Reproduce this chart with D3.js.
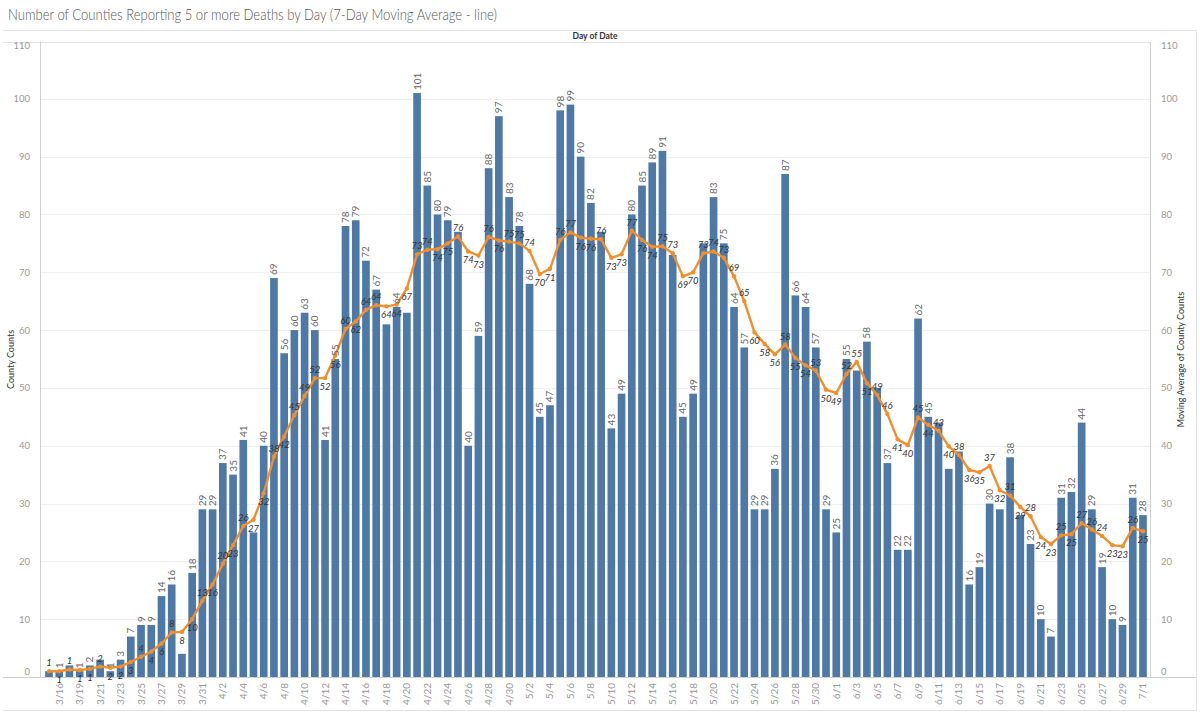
<!DOCTYPE html>
<html>
<head>
<meta charset="utf-8">
<script src="https://cdn.jsdelivr.net/npm/d3@7"></script>
<style>
  body { margin: 0; background: #fff; }
  svg text { font-family: Lato, "Open Sans", sans-serif; }
</style>
</head>
<body>
<div class="chart"></div>
<script>
// day labels (3/18 not in the data)
const dates = ["3/15","3/16","3/17","3/19","3/20","3/21","3/22","3/23","3/24","3/25","3/26","3/27","3/28","3/29","3/30","3/31",
  "4/1","4/2","4/3","4/4","4/5","4/6","4/7","4/8","4/9","4/10","4/11","4/12","4/13","4/14","4/15","4/16","4/17","4/18","4/19","4/20",
  "4/21","4/22","4/23","4/24","4/25","4/26","4/27","4/28","4/29","4/30",
  "5/1","5/2","5/3","5/4","5/5","5/6","5/7","5/8","5/9","5/10","5/11","5/12","5/13","5/14","5/15","5/16","5/17","5/18","5/19","5/20",
  "5/21","5/22","5/23","5/24","5/25","5/26","5/27","5/28","5/29","5/30","5/31",
  "6/1","6/2","6/3","6/4","6/5","6/6","6/7","6/8","6/9","6/10","6/11","6/12","6/13","6/14","6/15","6/16","6/17","6/18","6/19","6/20",
  "6/21","6/22","6/23","6/24","6/25","6/26","6/27","6/28","6/29","6/30","7/1"];

// county counts per day (bars)
const counts = [1,1,2,1,2,3,1,3,7,9,9,14,16,4,18,29,29,37,35,41,25,40,69,
  56,60,63,60,41,55,78,79,72,67,61,64,63,
  101,85,80,79,77,40,59,88,97,83,78,68,
  45,47,98,99,90,82,77,
  43,49,80,85,89,91,73,45,49,75,83,75,
  64,57,29,29,36,87,66,64,57,29,
  25,55,53,58,50,37,22,22,62,45,44,
  36,39,16,19,30,29,38,28,23,
  10,7,31,32,44,29,19,10,9,31,28];

// 7-day moving average (line)
const movingAvg = [1.0,1.0,1.3,1.2,1.4,1.8,1.6,1.8,2.6,3.5,4.4,5.8,7.7,7.8,10.0,
  13.2,16.0,19.6,22.8,26.1,27.2,31.8,38.1,
  41.6,45.3,48.6,51.7,51.7,55.6,60.2,61.5,63.5,64.3,64.1,64.4,67.2,
  73.1,73.9,74.0,75.0,76.2,73.6,72.9,76.1,75.5,75.3,75.0,73.7,
  69.7,70.6,75.6,76.9,76.0,75.8,75.7,
  72.5,73.1,77.2,75.6,74.4,74.5,73.3,69.3,70.0,73.3,73.6,72.5,
  69.3,65.0,59.6,57.6,55.8,57.5,55.2,53.9,53.0,49.7,
  49.1,52.4,54.5,50.8,48.8,45.5,41.1,40.1,44.9,43.6,42.6,
  39.9,38.4,35.8,35.4,36.5,32.3,31.4,29.4,27.8,
  24.2,23.0,24.5,24.7,26.6,25.5,24.4,22.8,22.6,25.8,25.2];

const yTicks = [0,10,20,30,40,50,60,70,80,90,100,110];

const w = 1200;
const h = 714;
const padL = 40, padR = 1150, padT = 42, padB = 677;

const data = dates.map((d, i) => ({date: d, count: counts[i], avg: movingAvg[i], i: i}));

const svg = d3.select(".chart").append("svg")
  .attr("width", w)
  .attr("height", h);

// title
svg.append("text")
  .attr("x", 8)
  .attr("y", 20)
  .attr("fill", "#555")
  .style("font-size", "16px")
  .style("font-weight", 300)
  .attr("textLength", 489)
  .attr("lengthAdjust", "spacingAndGlyphs")
  .text("Number of Counties Reporting 5 or more Deaths by Day (7-Day Moving Average - line)");

// frame lines
const frame = svg.append("g").attr("stroke", "#e3e3e3").attr("fill", "none");
frame.append("line").attr("x1", 3).attr("x2", 1196).attr("y1", 30.5).attr("y2", 30.5);
frame.append("line").attr("x1", 3).attr("x2", 1196).attr("y1", 710.5).attr("y2", 710.5);
frame.append("line").attr("x1", 1196.5).attr("x2", 1196.5).attr("y1", 30).attr("y2", 711);
frame.append("line").attr("x1", 3).attr("x2", 1150).attr("y1", padT + 0.5).attr("y2", padT + 0.5);

svg.append("text")
  .attr("x", 595)
  .attr("y", 39)
  .attr("text-anchor", "middle")
  .attr("fill", "#333")
  .style("font-size", "8.5px")
  .style("font-weight", "bold")
  .text("Day of Date");

const xScale = d3.scaleBand()
  .domain(dates)
  .range([43.9, 1148.1])
  .paddingInner(0.25)
  .paddingOuter(0.125);

const yScale = d3.scaleLinear()
  .domain([0, 110])
  .range([padB, padT - 1]);

// gridlines
svg.append("g").selectAll("line")
  .data(yTicks.slice(1, -1))
  .enter()
  .append("line")
  .attr("x1", padL)
  .attr("x2", padR)
  .attr("y1", d => Math.round(yScale(d)) + 0.5)
  .attr("y2", d => Math.round(yScale(d)) + 0.5)
  .attr("stroke", "#f0f0f0");

// axes
function styleAxis(g) {
  g.select(".domain").attr("stroke", "#d0d0d0");
  g.selectAll(".tick line").remove();
  g.selectAll(".tick text")
    .attr("fill", "#999")
    .style("font-size", "9.5px")
    .attr("dy", d => d === 0 ? "-0.3em" : d === 110 ? "0.75em" : "0.32em");
}

svg.append("g")
  .attr("transform", `translate(${padL},0)`)
  .call(d3.axisLeft(yScale).tickValues(yTicks).tickSizeOuter(0).tickPadding(4))
  .call(styleAxis);

svg.append("g")
  .attr("transform", `translate(${padR},0)`)
  .call(d3.axisRight(yScale).tickValues(yTicks).tickSizeOuter(0).tickPadding(5))
  .call(styleAxis);

// baseline
svg.append("line")
  .attr("x1", 3).attr("x2", 1196)
  .attr("y1", padB + 0.5).attr("y2", padB + 0.5)
  .attr("stroke", "#d0d0d0");

// x labels every other day
svg.append("g").selectAll("text")
  .data(data.filter(d => d.i % 2 === 1))
  .enter()
  .append("text")
  .attr("transform", d => `translate(${xScale(d.date) + xScale.bandwidth() / 2 + 3.5},${padB + 6}) rotate(-90)`)
  .attr("text-anchor", "end")
  .attr("fill", "#999")
  .style("font-size", "10px")
  .text(d => d.date);

// axis titles
svg.append("text")
  .attr("transform", `translate(14,${(padT + padB) / 2}) rotate(-90)`)
  .attr("text-anchor", "middle")
  .attr("fill", "#333")
  .style("font-size", "9px")
  .text("County Counts");

svg.append("text")
  .attr("transform", `translate(1184,${(padT + padB) / 2}) rotate(-90)`)
  .attr("text-anchor", "middle")
  .attr("fill", "#333")
  .style("font-size", "9px")
  .text("Moving Average of County Counts");

// bars
svg.append("g").selectAll("rect")
  .data(data)
  .enter()
  .append("rect")
  .attr("x", d => xScale(d.date))
  .attr("y", d => yScale(d.count))
  .attr("width", xScale.bandwidth())
  .attr("height", d => padB - yScale(d.count))
  .attr("fill", "#4e79a7");

// line
const cx = d => xScale(d.date) + xScale.bandwidth() / 2;
const line = d3.line().x(cx).y(d => yScale(d.avg));

svg.append("path")
  .datum(data)
  .attr("d", line)
  .attr("fill", "none")
  .attr("stroke", "#f28e2b")
  .attr("stroke-width", 2.4)
  .attr("stroke-linejoin", "round");

svg.append("g").selectAll("circle")
  .data(data)
  .enter()
  .append("circle")
  .attr("cx", cx)
  .attr("cy", d => yScale(d.avg))
  .attr("r", 2.2)
  .attr("fill", "#f28e2b");

// line labels: above where the curve bends down, below otherwise
const boxes = [];
const lineLabels = svg.append("g");
data.forEach((d, i) => {
  const prev = i > 0 ? data[i - 1].avg : d.avg;
  const next = i < data.length - 1 ? data[i + 1].avg : d.avg;
  const above = d.avg >= (prev + next) / 2;
  const y = yScale(d.avg) + (above ? -5 : 12);
  const t = lineLabels.append("text")
    .attr("x", cx(d))
    .attr("y", y)
    .attr("text-anchor", "middle")
    .attr("fill", "#333")
    .style("font-size", "9.5px")
    .style("font-style", "italic")
    .text(Math.round(d.avg));
  boxes.push(t.node().getBBox());
});

// bar labels, skipped when they hit a line label
const overlap = (a, b) => a.x < b.x + b.width && b.x < a.x + a.width && a.y - 2 < b.y + b.height && b.y - 2 < a.y + a.height;
const barLabels = svg.append("g");
data.forEach(d => {
  const t = barLabels.append("text")
    .attr("transform", `translate(${cx(d) + 3.5},${yScale(d.count) - 3}) rotate(-90)`)
    .attr("fill", "#666")
    .style("font-size", "10px")
    .text(d.count);
  const len = t.node().getComputedTextLength();
  const box = {x: cx(d) - 4.5, y: yScale(d.count) - 3 - len, width: 9, height: len};
  if (boxes.some(b => overlap(b, box))) t.remove();
});
</script>
</body>
</html>
